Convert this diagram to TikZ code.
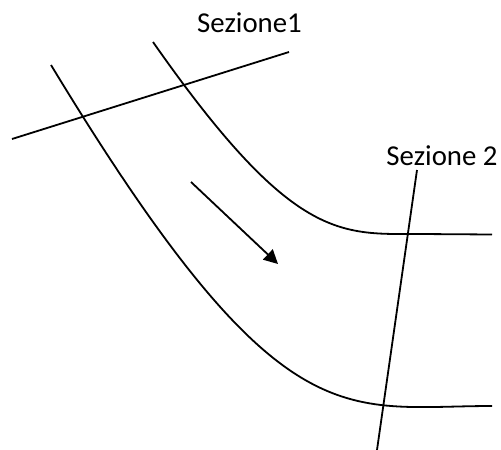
\documentclass[tikz,border=0pt]{standalone}
\usepackage{fontspec}
\setmainfont{Carlito}
\usetikzlibrary{arrows.meta}
\tikzset{
  canale/.style={black,line width=1.8pt},
  sezione/.style={black,line width=1.8pt},
  etichetta/.style={inner sep=0pt,anchor=base,font=\fontsize{28.8}{32}\selectfont},
}
\begin{document}
\begin{tikzpicture}[x=1pt,y=-1pt]
  \useasboundingbox (0,0) rectangle (501,450);
  % labels
  \node[etichetta] (sez1) at (249.5,32) {Sezione1};
  \node[etichetta] (sez2) at (442,165) {Sezione 2};
  % channel banks
  \draw[canale] (153,42) .. controls (293,242) and (340,234) .. (420,234) -- (492,234.5);
  \draw[canale] (51,65) .. controls (281,444.5) and (342,406) .. (492,406);
  % sections
  \coordinate (s1a) at (12,139);
  \coordinate (s1b) at (289,52);
  \coordinate (s2a) at (417,170);
  \coordinate (s2b) at (377,450);
  \draw[sezione] (s1a) -- (s1b);
  \draw[sezione] (s2a) -- (s2b);
  % flow direction
  \coordinate (flussoA) at (191,182);
  \coordinate (flussoB) at (278,264);
  \draw[canale,-{Triangle[length=14pt,width=14pt]}] (flussoA) -- (flussoB);
\end{tikzpicture}
\end{document}
